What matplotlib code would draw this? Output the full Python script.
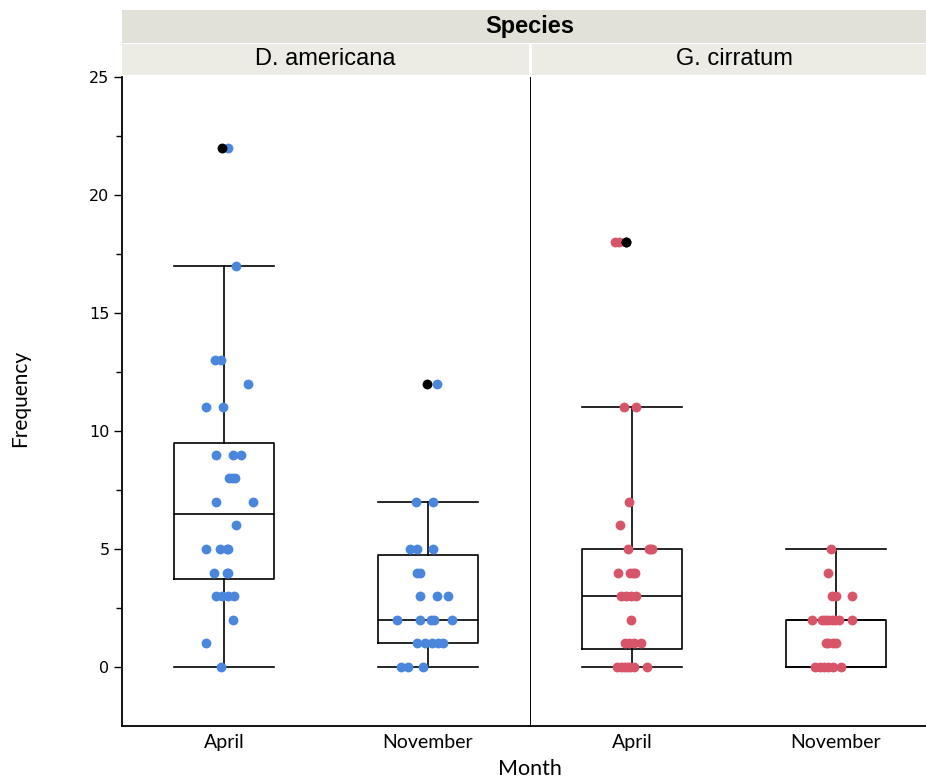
import numpy as np
import matplotlib.pyplot as plt
from matplotlib.patches import Rectangle

months = ['April', 'November']
species = ['D. americana', 'G. cirratum']

# counts per sample, with the horizontal jitter of each dot (in category units)
da_apr = [0, 1, 2, 3, 3, 3, 3, 4, 4, 4, 5, 5, 5, 5, 6, 7, 7, 8, 8, 8,
          9, 9, 9, 11, 11, 12, 13, 13, 17, 22]
da_apr_jit = [-0.015, -0.09, 0.045, -0.04, -0.01, 0.02, 0.05, -0.05, 0.015, 0.02,
              -0.09, -0.02, 0.015, 0.02, 0.06, -0.04, 0.14, 0.025, 0.055, 0.04,
              -0.04, 0.045, 0.085, -0.09, -0.005, 0.12, -0.045, -0.015, 0.06, 0.02]

da_nov = [0, 0, 0, 1, 1, 1, 1, 1, 2, 2, 2, 2, 2, 3, 3, 3, 4, 4, 5, 5, 5, 7, 7, 12]
da_nov_jit = [-0.13, -0.1, -0.025, -0.055, -0.015, 0.02, 0.05, 0.075, -0.15, -0.04,
              0.015, 0.03, 0.12, -0.04, 0.045, 0.1, -0.055, -0.04, -0.09, -0.055,
              0.025, -0.06, 0.025, 0.045]

gc_apr = [0, 0, 0, 0, 0, 0, 0, 1, 1, 1, 1, 2, 3, 3, 3, 3, 4, 4, 4, 4,
          5, 5, 5, 5, 6, 7, 11, 11, 18, 18]
gc_apr_jit = [-0.075, -0.055, -0.04, -0.025, -0.01, 0.01, 0.075, -0.035, -0.015, 0.01,
              0.045, -0.005, -0.055, -0.03, -0.005, 0.02, -0.07, -0.01, 0.005, 0.015,
              -0.02, 0.085, 0.1, 0.09, -0.06, -0.015, -0.04, 0.02, -0.085, -0.065]

gc_nov = [0, 0, 0, 0, 0, 0, 1, 1, 1, 1, 2, 2, 2, 2, 2, 2, 2, 2, 3, 3, 3, 4, 5]
gc_nov_jit = [-0.105, -0.08, -0.06, -0.04, -0.015, 0.025, -0.05, -0.04, -0.015, 0.0,
              -0.12, -0.07, -0.055, -0.04, -0.02, -0.005, 0.015, 0.08, -0.02, 0.0,
              0.08, -0.04, -0.025]

# jitter of the black outlier dots
da_apr_out_jit = -0.01
da_nov_out_jit = -0.005
gc_apr_out_jit = -0.03
gc_nov_out_jit = 0.0

colors = ['#4a86dc', '#d85468']

panels = [
    [(da_apr, da_apr_jit, da_apr_out_jit), (da_nov, da_nov_jit, da_nov_out_jit)],
    [(gc_apr, gc_apr_jit, gc_apr_out_jit), (gc_nov, gc_nov_jit, gc_nov_out_jit)],
]


def box_stats(vals):
    vals = np.asarray(vals, dtype=float)
    q1, med, q3 = np.percentile(vals, [25, 50, 75], method='weibull')
    iqr = q3 - q1
    inside = vals[(vals >= q1 - 1.5 * iqr) & (vals <= q3 + 1.5 * iqr)]
    out = vals[(vals < q1 - 1.5 * iqr) | (vals > q3 + 1.5 * iqr)]
    return {'med': med, 'q1': q1, 'q3': q3, 'whislo': inside.min(),
            'whishi': inside.max(), 'fliers': out}


W, H = 926, 782
fig = plt.figure(figsize=(W / 100, H / 100), dpi=100)


def px_axes(x0, x1, y0, y1):
    return fig.add_axes([x0 / W, 1 - y1 / H, (x1 - x0) / W, (y1 - y0) / H])


ax1 = px_axes(122, 530, 77, 726)
ax2 = px_axes(530, 938, 77, 726)
axes = [ax1, ax2]

line = dict(color='black', linewidth=1.2)
for i, ax in enumerate(axes):
    stats = []
    for j, (vals, jit, ojit) in enumerate(panels[i]):
        st = box_stats(vals)
        stats.append(st)
        ax.scatter(j + np.array(jit), vals, s=50, color=colors[i],
                   linewidths=0, zorder=3)
        if len(st['fliers']):
            ax.scatter(np.full(len(st['fliers']), j + ojit), st['fliers'],
                       s=50, color='black', linewidths=0, zorder=4)
    ax.bxp(stats, positions=[0, 1], widths=0.49, capwidths=0.49,
           showfliers=False, boxprops=line, whiskerprops=line,
           capprops=line, medianprops=line, manage_ticks=False, zorder=2)

    ax.set_xlim(-0.5, 1.5)
    ax.set_ylim(-2.5, 25)
    ax.set_xticks([0, 1])
    ax.set_xticklabels(months, family='Lato', fontsize=14)
    ax.tick_params(axis='x', length=0, pad=6)
    ax.spines['top'].set_visible(False)
    ax.spines['right'].set_visible(False)
    ax.spines['bottom'].set_linewidth(1.3)
    ax.set_facecolor('none')

ax1.set_yticks(np.arange(0, 26, 5))
ax1.set_yticks(np.arange(0, 25, 2.5), minor=True)
ax1.tick_params(axis='y', which='major', length=6, width=1, labelsize=11.5, pad=3)
ax1.tick_params(axis='y', which='minor', length=4, width=1)
ax1.spines['left'].set_linewidth(1.3)
for lab in ax1.get_yticklabels():
    lab.set_family('DejaVu Sans')

ax2.set_yticks([])
ax2.spines['left'].set_linewidth(0.7)

# facet header strips
fig.patches.append(Rectangle((122 / W, 1 - 43 / H), (938 - 122) / W, 33 / H,
                             transform=fig.transFigure, facecolor='#e1e1d7',
                             edgecolor='none'))
fig.patches.append(Rectangle((122 / W, 1 - 75 / H), (528.5 - 122) / W, 31 / H,
                             transform=fig.transFigure, facecolor='#ececE5',
                             edgecolor='none'))
fig.patches.append(Rectangle((531.5 / W, 1 - 75 / H), (938 - 531.5) / W, 31 / H,
                             transform=fig.transFigure, facecolor='#ececE5',
                             edgecolor='none'))
fig.text((122 + 938) / 2 / W, 1 - 26 / H, 'Species', ha='center', va='center',
         family='Liberation Sans', fontweight='bold', fontsize=17)
fig.text((122 + 528) / 2 / W, 1 - 59 / H, species[0], ha='center', va='center',
         family='Liberation Sans', fontsize=17)
fig.text((531 + 938) / 2 / W, 1 - 59 / H, species[1], ha='center', va='center',
         family='Liberation Sans', fontsize=17)

fig.text(20 / W, 1 - 398 / H, 'Frequency', rotation=90, ha='center', va='center',
         family='Lato', fontsize=15)
fig.text(530 / W, 1 - 769 / H, 'Month', ha='center', va='center',
         family='Lato', fontsize=15.5)

fig.savefig('out.png', dpi=100)
